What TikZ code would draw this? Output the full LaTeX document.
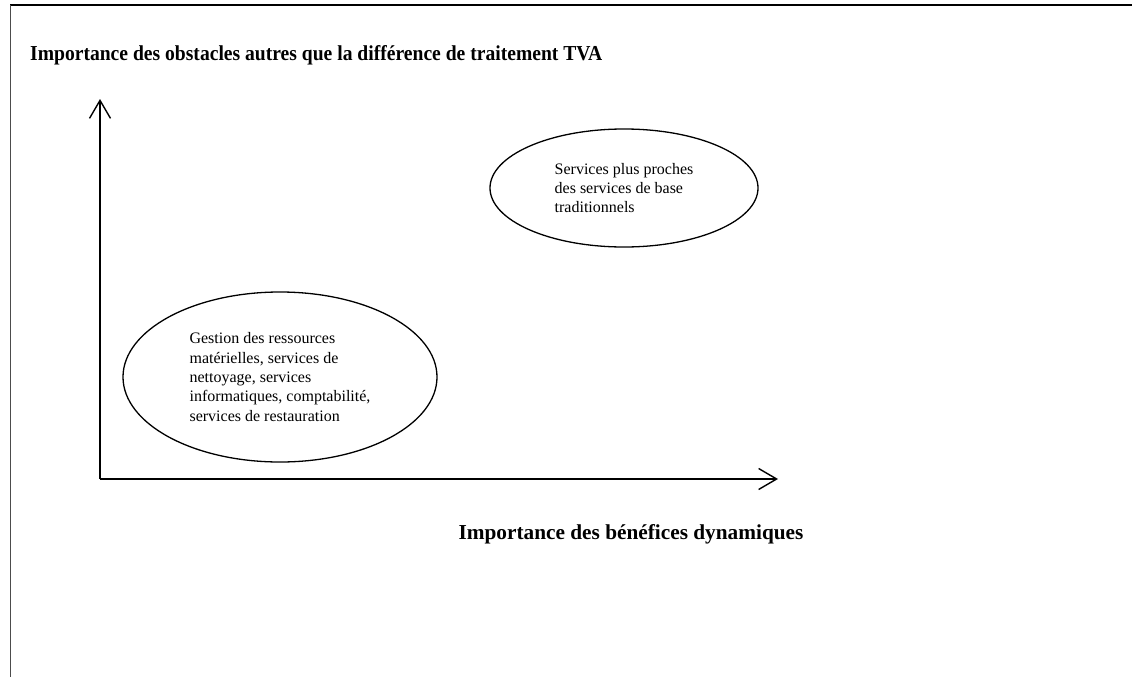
\documentclass[tikz,border=0pt]{standalone}
\usepackage{fontspec}
\setmainfont{Liberation Serif}
\usetikzlibrary{arrows.meta}
\usetikzlibrary{shapes.geometric}

\tikzset{
  axe/.style={line width=1.4pt, -{Straight Barb[length=18pt,width=21pt,line width=1.4pt]}},
  bulle/.style={draw, ellipse, line width=1.3pt, inner sep=0pt, align=left,
    font=\fontsize{16}{19.3}\selectfont},
  titre/.style={font=\bfseries\fontsize{21.3}{24}\selectfont, inner sep=0pt}
}

\begin{document}
\begin{tikzpicture}[x=1pt,y=-1pt]
\useasboundingbox (0,0) rectangle (1132,677);
\draw[line width=1.6pt] (1132,5) -- (10,5);
\draw[line width=1pt, black!70] (10,5) -- (10,677);
% axes
\coordinate (O) at (100,479);
\coordinate (ytop) at (100,99);
\coordinate (xend) at (778,479);
\draw[axe] (O) -- (ytop);
\draw[axe] (O) -- (xend);
\node[titre, anchor=base west, xscale=0.92] (yaxe) at (30,61)
  {Importance des obstacles autres que la différence de traitement TVA};
\node[titre, anchor=base] (xaxe) at (631,539) {Importance des bénéfices dynamiques};
% groupes de services
\node[bulle, minimum width=268pt, minimum height=118pt] (base) at (624,188)
  {Services plus proches\\des services de base\\traditionnels};
\node[bulle, minimum width=314pt, minimum height=170pt] (support) at (280,377)
  {Gestion des ressources\\matérielles, services de\\nettoyage, services\\informatiques, comptabilité,\\services de restauration};
\end{tikzpicture}
\end{document}
